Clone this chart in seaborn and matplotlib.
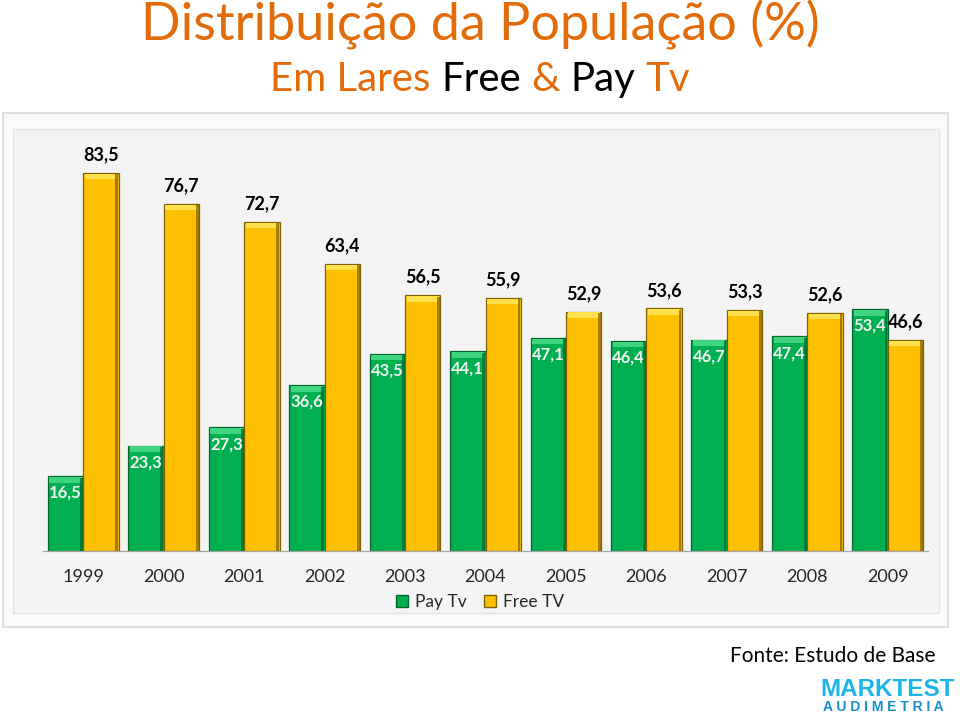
import matplotlib
matplotlib.use("Agg")
import matplotlib.pyplot as plt
import seaborn as sns
import pandas as pd
from matplotlib.patches import Rectangle, Patch

years = ["1999", "2000", "2001", "2002", "2003", "2004", "2005", "2006", "2007", "2008", "2009"]
pay_tv = [16.5, 23.3, 27.3, 36.6, 43.5, 44.1, 47.1, 46.4, 46.7, 47.4, 53.4]
free_tv = [83.5, 76.7, 72.7, 63.4, 56.5, 55.9, 52.9, 53.6, 53.3, 52.6, 46.6]
series = ["Pay Tv", "Free TV"]
colors = ["#00B050", "#FFC000"]
edges = ["#00662E", "#7F6000"]
highlights = ["#3FD47E", "#FFE14D"]

orange = "#E36C0A"

df = pd.DataFrame({
    "Ano": years * 2,
    "Serie": [series[0]] * len(years) + [series[1]] * len(years),
    "Valor": pay_tv + free_tv,
})

sns.set_style("white")
plt.rcParams["font.family"] = ["Lato", "DejaVu Sans"]

fig = plt.figure(figsize=(9.6, 7.15), dpi=100)

# grey panel behind the chart
fig.patches.append(Rectangle((3 / 960, 1 - 627 / 715), 945 / 960, 514 / 715,
                             transform=fig.transFigure, facecolor="#FAFAFA",
                             edgecolor="#DADADA", lw=1.2, zorder=-2))
fig.patches.append(Rectangle((13 / 960, 1 - 613 / 715), 926 / 960, 484 / 715,
                             transform=fig.transFigure, facecolor="#F4F4F4",
                             edgecolor="#E4E4E4", lw=1.0, zorder=-1))

ax = fig.add_axes([43 / 960, 1 - 551 / 715, 885 / 960, 421 / 715])
ax.set_zorder(1)
ax.set_facecolor("none")

sns.barplot(data=df, x="Ano", y="Valor", hue="Serie", palette=colors,
            saturation=1, width=0.88, ax=ax, legend=False, zorder=2)

for i, cont in enumerate(ax.containers):
    vals = pay_tv if i == 0 else free_tv
    for p, v in zip(cont.patches, vals):
        p.set_edgecolor(edges[i])
        p.set_linewidth(0.9)
        x, w, h = p.get_x(), p.get_width(), p.get_height()
        # bevel on top of each bar
        ax.add_patch(Rectangle((x + 0.02, h - 1.4), w - 0.04, 1.2,
                               facecolor=highlights[i], edgecolor="none", zorder=3))
        ax.add_patch(Rectangle((x + w - 0.04, 0), 0.035, h - 0.3,
                               facecolor=edges[i], edgecolor="none", alpha=0.7, zorder=3))
        txt = f"{v:.1f}".replace(".", ",")
        if i == 0:
            ax.annotate(txt, (x + w / 2, h), xytext=(0, -12), textcoords="offset points",
                        ha="center", va="center", fontsize=12, fontweight="bold",
                        color="#F2F2F2", zorder=4)
        else:
            ax.annotate(txt, (x + w / 2, h), xytext=(0, 13), textcoords="offset points",
                        ha="center", va="center", fontsize=13, fontweight="bold",
                        color="black", zorder=4)

ax.set_xlim(-0.5, len(years) - 0.5)
ax.set_ylim(0, 93)
ax.set_yticks([])
ax.set_xlabel("")
ax.set_ylabel("")
ax.set_xticks(range(len(years)))
ax.set_xticklabels(years, fontsize=13)
ax.set_xticks([k - 0.5 for k in range(len(years) + 1)], minor=True)
ax.tick_params(axis="x", which="major", length=0, pad=13)
ax.tick_params(axis="x", which="minor", length=4, color="#A6A6A6", width=0.8)
for s in ["top", "left", "right"]:
    ax.spines[s].set_visible(False)
ax.spines["bottom"].set_color("#A6A6A6")
ax.spines["bottom"].set_linewidth(0.9)

handles = [Patch(facecolor=c, edgecolor=e) for c, e in zip(colors, edges)]
fig.legend(handles, series, loc="center", bbox_to_anchor=(0.5, 1 - 602 / 715),
           ncol=2, frameon=False, fontsize=12.5, handlelength=0.7, handleheight=0.7,
           handletextpad=0.4, columnspacing=1.0)

# titles
fig.text(0.5, 1 - 40 / 715, "Distribuição da População (%)", ha="center",
         va="baseline", fontsize=37.5, color=orange)

pieces = [("Em Lares", orange), ("Free", "black"), ("&", orange), ("Pay", "black"), ("Tv", orange)]
sub_size = 29
renderer = fig.canvas.get_renderer()
tmp1 = fig.text(0, 0, "a b", fontsize=sub_size)
tmp2 = fig.text(0, 0, "ab", fontsize=sub_size)
space_w = tmp1.get_window_extent(renderer).width - tmp2.get_window_extent(renderer).width
tmp1.remove()
tmp2.remove()
sub_texts = []
widths = []
for s, c in pieces:
    t = fig.text(0, 1 - 91 / 715, s, fontsize=sub_size, color=c, va="baseline", ha="left")
    sub_texts.append(t)
    widths.append(t.get_window_extent(renderer).width)
total = sum(widths) + space_w * (len(pieces) - 1)
xpix = 480 - total / 2
for t, w in zip(sub_texts, widths):
    t.set_x(xpix / 960)
    xpix += w + space_w

fig.text(935 / 960, 1 - 656 / 715, "Fonte: Estudo de Base", ha="right", va="center",
         fontsize=15, color="black")
fig.text(955 / 960, 1 - 689 / 715, "MARKTEST", ha="right", va="center", fontsize=17.5,
         fontweight="bold", color="#1CB5EA", family="Liberation Sans")
fig.text(823 / 960, 1 - 707 / 715, "A U D I M E T R I A", ha="left", va="center",
         fontsize=10, fontweight="bold", color="#1A8CCB", family="Liberation Sans")

fig.savefig("out.png", dpi=100, facecolor="white")
